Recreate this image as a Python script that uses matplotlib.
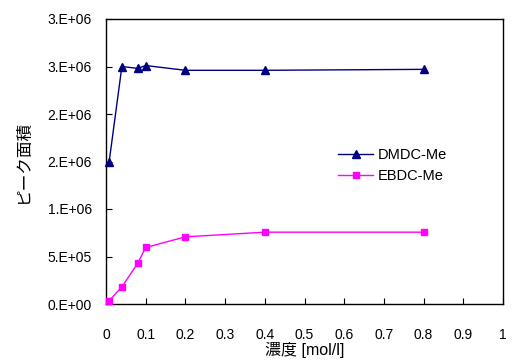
import matplotlib
matplotlib.use("Agg")
import matplotlib.pyplot as plt
from matplotlib.ticker import FixedLocator, FixedFormatter

plt.rcParams['font.family'] = ['Liberation Sans', 'Noto Sans CJK JP', 'DejaVu Sans']

conc = [0.008, 0.04, 0.08, 0.1, 0.2, 0.4, 0.8]
dmdc = [1.50e6, 2.50e6, 2.48e6, 2.51e6, 2.46e6, 2.46e6, 2.47e6]
ebdc = [3.5e4, 1.8e5, 4.3e5, 5.95e5, 7.07e5, 7.56e5, 7.56e5]

xticks = [0, 0.1, 0.2, 0.3, 0.4, 0.5, 0.6, 0.7, 0.8, 0.9, 1]
xticklabels = ["0", "0.1", "0.2", "0.3", "0.4", "0.5", "0.6", "0.7", "0.8", "0.9", "1"]
yticks = [0, 0.5e6, 1.0e6, 1.5e6, 2.0e6, 2.5e6, 3.0e6]
yticklabels = ["0.E+00", "5.E+05", "1.E+06", "2.E+06", "2.E+06", "3.E+06", "3.E+06"]

fig = plt.figure(figsize=(5.15, 3.6), dpi=100)
ax = fig.add_axes([106/515, 56/360, 397/515, 285/360])

ax.plot(conc, dmdc, color='#000080', marker='^', markersize=6, linewidth=1.0,
        label='DMDC-Me', clip_on=False, zorder=3)
ax.plot(conc, ebdc, color='#FF00FF', marker='s', markersize=5, linewidth=1.0,
        label='EBDC-Me', clip_on=False, zorder=3)

ax.set_xlim(0, 1)
ax.set_ylim(0, 3.0e6)
ax.xaxis.set_major_locator(FixedLocator(xticks))
ax.xaxis.set_major_formatter(FixedFormatter(xticklabels))
ax.yaxis.set_major_locator(FixedLocator(yticks))
ax.yaxis.set_major_formatter(FixedFormatter(yticklabels))
ax.tick_params(direction='in', length=4, width=0.8, labelsize=10, colors='black')
ax.tick_params(axis='y', pad=10)
ax.tick_params(axis='x', pad=17)
for s in ax.spines.values():
    s.set_linewidth(1.0)
    s.set_color('black')

ax.set_xlabel('濃度 [mol/l]', fontsize=11.5, labelpad=0)
ax.set_ylabel('ピーク面積', fontsize=12, labelpad=12)

leg = ax.legend(loc='upper left', bbox_to_anchor=(0.585, 0.547), frameon=False,
                fontsize=10.5, handlelength=2.4, labelspacing=0.5, handletextpad=0.3,
                borderpad=0, borderaxespad=0)

fig.savefig('out.png', dpi=100)
